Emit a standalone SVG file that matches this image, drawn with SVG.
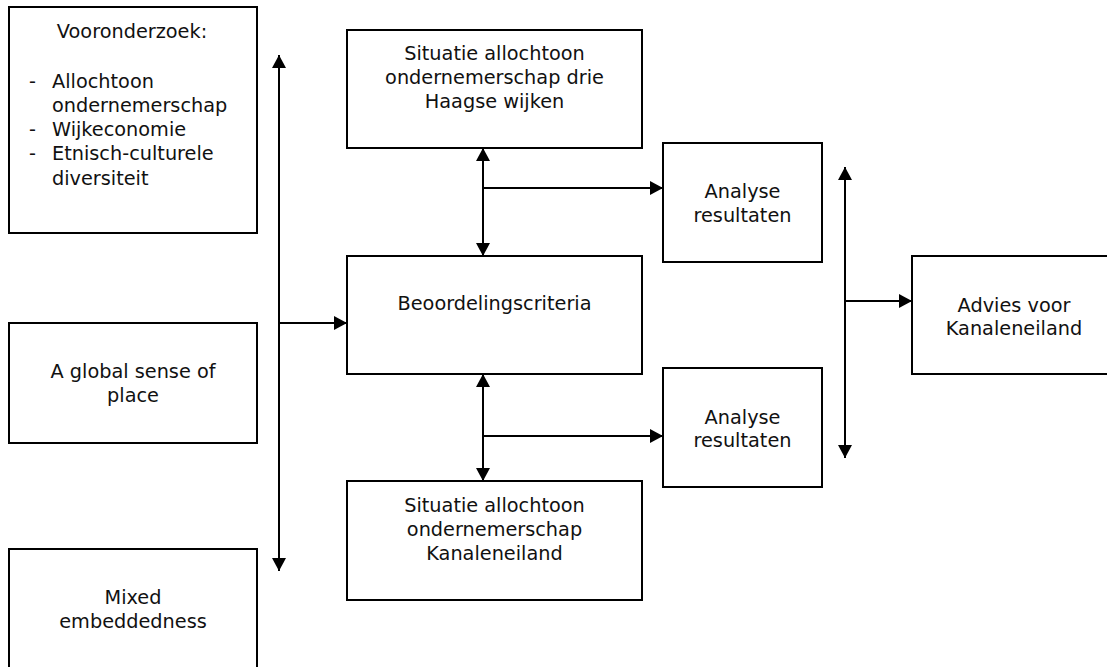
<svg xmlns="http://www.w3.org/2000/svg" width="1107" height="667" viewBox="0 0 1107 667">
<style>
.box{fill:#fff;stroke:#000;stroke-width:2}
.t{font-family:"DejaVu Sans","Liberation Sans",sans-serif;font-size:19.3px;fill:#111}
.c{text-anchor:middle}
.ln{stroke:#000;stroke-width:2;fill:none}
</style>
<defs>
<marker id="ah" markerUnits="userSpaceOnUse" markerWidth="16" markerHeight="16" refX="13" refY="7" orient="auto-start-reverse">
<path d="M0,0 L13,7 L0,14 z" fill="#000"/>
</marker>
</defs>
<rect width="1107" height="667" fill="#fff"/>
<g id="connectors">
<path class="ln" d="M279,55 V571" marker-start="url(#ah)" marker-end="url(#ah)"/>
<path class="ln" d="M279,323 H347" marker-end="url(#ah)"/>
<path class="ln" d="M483,148 V256" marker-start="url(#ah)" marker-end="url(#ah)"/>
<path class="ln" d="M483,188 H663" marker-end="url(#ah)"/>
<path class="ln" d="M483,374 V481" marker-start="url(#ah)" marker-end="url(#ah)"/>
<path class="ln" d="M483,436 H663" marker-end="url(#ah)"/>
<path class="ln" d="M845,167 V458" marker-start="url(#ah)" marker-end="url(#ah)"/>
<path class="ln" d="M845,301 H912" marker-end="url(#ah)"/>
</g>
<g id="vooronderzoek">
<rect class="box" x="9" y="7" width="248" height="226"/>
<text class="t c" x="132" y="38">Vooronderzoek:</text>
<text class="t" x="29" y="88">-</text><text class="t" x="52" y="88">Allochtoon</text>
<text class="t" x="52" y="112">ondernemerschap</text>
<text class="t" x="29" y="136">-</text><text class="t" x="52" y="136">Wijkeconomie</text>
<text class="t" x="29" y="160">-</text><text class="t" x="52" y="160">Etnisch-culturele</text>
<text class="t" x="52" y="185">diversiteit</text>
</g>
<g id="global">
<rect class="box" x="9" y="323" width="248" height="120"/>
<text class="t c" x="133" y="378">A global sense of</text>
<text class="t c" x="133" y="402">place</text>
</g>
<g id="mixed">
<rect class="box" x="9" y="549" width="248" height="130"/>
<text class="t c" x="133" y="604">Mixed</text>
<text class="t c" x="133" y="628">embeddedness</text>
</g>
<g id="situatie1">
<rect class="box" x="347" y="30" width="295" height="118"/>
<text class="t c" x="494.5" y="60">Situatie allochtoon</text>
<text class="t c" x="494.5" y="84">ondernemerschap drie</text>
<text class="t c" x="494.5" y="108">Haagse wijken</text>
</g>
<g id="beoordeling">
<rect class="box" x="347" y="256" width="295" height="118"/>
<text class="t c" x="494.5" y="310">Beoordelingscriteria</text>
</g>
<g id="situatie2">
<rect class="box" x="347" y="481" width="295" height="119"/>
<text class="t c" x="494.5" y="512">Situatie allochtoon</text>
<text class="t c" x="494.5" y="536">ondernemerschap</text>
<text class="t c" x="494.5" y="560">Kanaleneiland</text>
</g>
<g id="analyse1">
<rect class="box" x="663" y="143" width="159" height="119"/>
<text class="t c" x="742.5" y="198">Analyse</text>
<text class="t c" x="742.5" y="222">resultaten</text>
</g>
<g id="analyse2">
<rect class="box" x="663" y="368" width="159" height="119"/>
<text class="t c" x="742.5" y="424">Analyse</text>
<text class="t c" x="742.5" y="447">resultaten</text>
</g>
<g id="advies">
<rect class="box" x="912" y="256" width="210" height="118"/>
<text class="t c" x="1014" y="312">Advies voor</text>
<text class="t c" x="1014" y="335">Kanaleneiland</text>
</g>
</svg>
